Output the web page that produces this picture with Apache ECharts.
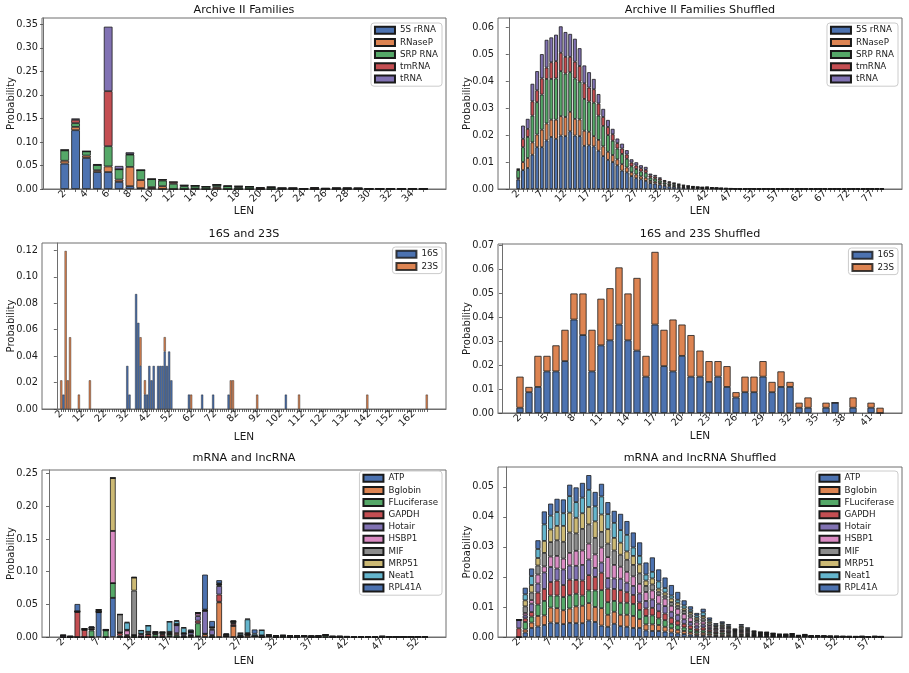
<!DOCTYPE html>
<html>
<head>
<meta charset="utf-8">
<title>LEN distributions</title>
<script src="https://cdn.jsdelivr.net/npm/echarts@6/dist/echarts.min.js"></script>
<style>
  html, body { margin: 0; padding: 0; background: #fff; }
  #chart { width: 909px; height: 673px; }
</style>
</head>
<body>
<div id="chart"></div>
<script>
// ---- Archive II Families (LEN 2..35) ----
var arch_start = 2;
var arch_names = ['5S rRNA', 'RNaseP', 'SRP RNA', 'tmRNA', 'tRNA'];
var arch_5s    = [.054,.125,.066,.036,.036,.015,.006,.002,.001,0, 0,0,0,0,0,0,0,0,0,0, 0,0,0,0,0,0,0,0,0,0, 0,0,0,0];
var arch_rnasep= [.006,.007,.005,.004,.012,.005,.041,.017,.003,.006, 0,0,.001,0,.004,0,0,0,0,0, 0,0,0,0,0,0,0,0,0,0, 0,0,0,0];
var arch_srp   = [.022,.008,.009,.011,.043,.022,.026,.021,.017,.012, .011,.006,.006,.005,.005,.006,.004,.005,.001,.004, .002,.002,.001,.001,.001,.002,.002,.001,.0005,.001, .0005,.0005,.0005,.0005];
var arch_tm    = [.001,.007,0,0,.117,0,.001,0,0,.002, .004,.002,0,0,0,0,.002,0,.002,0, 0,0,0,.002,0,0,0,.001,0,0, 0,0,0,0];
var arch_trna  = [0,.003,0,.002,.137,.007,.004,0,0,0, 0,0,0,0,0,.001,0,0,0,0, 0,0,0,0,.001,0,0,0,0,0, 0,0,0,0];

// ---- Archive II Families Shuffled (LEN 2..79) ----
var archS_start = 2;
var archS_5s = [.0035,.0070,.0078,.0127,.0155,.0155,.0180,.0193,.0186,.0198,
  .0196,.0214,.0198,.0196,.0160,.0162,.0158,.0142,.0122,.0108,
  .0100,.0088,.0068,.0062,.0048,.0040,.0036,.0030,.0022,.0020,
  .0016,.0012,.0010,.0008,.0007,.0005,.0004,.0003,.0003,.0002,
  .0002,.0002,.0001,.0001,.0001,.0001,.0001,0,.00005,.0001,
  .00005,0,.00005,.00005,0,.00005,0,.00005,.00005,0,
  .00005,0,.00005,0,.00005,.00005,0,.00005,0,.00005,
  0,.00005,.00005,0,.00005,0,.00005,.00005];
var archS_rnasep = [.0005,.0030,.0037,.0046,.0047,.0065,.0063,.0064,.0071,.0072,
  .0071,.0072,.0062,.0062,.0056,.0050,.0038,.0040,.0036,.0030,
  .0026,.0022,.0024,.0018,.0014,.0014,.0011,.0012,.0008,.0007,
  .0006,.0005,.0004,.0004,.0003,.0002,.0002,.0002,.0001,.0001,
  .0001,.0001,.0001,0,0,0,0,0,0,0,
  0,0,0,0,0,0,0,0,0,0, 0,0,0,0,0,0,0,0,0,0, 0,0,0,0,0,0,0,0];
var archS_srp = [.0030,.0055,.0078,.0099,.0120,.0130,.0165,.0151,.0153,.0167,
  .0161,.0147,.0150,.0140,.0118,.0112,.0124,.0090,.0076,.0062,
  .0053,.0040,.0038,.0032,.0022,.0020,.0018,.0018,.0012,.0011,
  .0009,.0007,.0006,.0005,.0004,.0003,.0003,.0002,.0002,.0002,
  .0001,.0001,.0001,.0001,.0001,0,0,.0001,0,0,
  0,.00005,0,0,.00005,0,0,0,0,.00005, 0,0,0,0,0,0,0,0,0,0, 0,0,0,0,0,0,0,0];
var archS_tm = [.0003,.0031,.0030,.0053,.0044,.0060,.0042,.0062,.0064,.0068,
  .0062,.0057,.0062,.0058,.0058,.0052,.0050,.0045,.0033,.0030,
  .0024,.0020,.0020,.0016,.0014,.0013,.0012,.0011,.0008,.0008,
  .0007,.0005,.0005,.0004,.0003,.0003,.0002,.0002,.0001,.0001,
  .0003,.0001,.0001,.0001,0,.0001,0,0,0,0,
  0,0,0,0,0,0,0,0,0,0, 0,0,0,0,0,0,0,0,0,0, 0,0,0,0,0,0,0,0];
var archS_trna = [.0002,.0049,.0037,.0065,.0071,.0090,.0103,.0092,.0098,.0098,
  .0092,.0085,.0085,.0066,.0066,.0057,.0038,.0035,.0030,.0026,
  .0020,.0017,.0018,.0016,.0012,.0012,.0011,.0011,.0007,.0006,
  .0005,.0004,.0003,.0002,.0002,.0002,.0001,.0001,.0001,.0001,
  .0001,0,0,0,.0001,0,0,0,0,0,
  0,0,0,0,0,0,0,0,0,0, 0,0,0,0,0,0,0,0,0,0, 0,0,0,0,0,0,0,0];

// ---- 16S and 23S (sparse, LEN 2..168) ----
var rr_names = ['16S', '23S'];
var rr_last = 168;
var rr16_len = [3, 32, 33, 36, 37, 38, 40, 41, 42, 43, 44, 46, 47, 48, 49, 50, 51, 52, 60, 66, 71, 78, 104];
var rr16_val = [.0109,.0326,.0109,.0870,.0652,.0326,.0109,.0109,.0326,.0217,.0326,.0326,.0326,.0326,.0435,.0326,.0435,.0217,.0109,.0109,.0109,.0109,.0109];
var rr23_len = [2, 4, 5, 6, 10, 15, 38, 40, 49, 61, 79, 80, 91, 110, 141, 168];
var rr23_val = [.0217,.1196,.0217,.0543,.0109,.0217,.0217,.0109,.0109,.0109,.0217,.0217,.0109,.0109,.0109,.0109];

// ---- 16S and 23S Shuffled (LEN 2..42) ----
var rrS_start = 2;
var rrS_16 = [.0022,.0087,.0109,.0174,.0174,.0217,.0391,.0326,.0174,.0283,
  .0304,.0370,.0304,.0261,.0152,.0370,.0196,.0174,.0239,.0152,
  .0152,.0130,.0152,.0109,.0065,.0087,.0087,.0152,.0087,.0109,
  .0109,.0022,.0022,null,.0022,.0043,null,.0022,null,.0022,0];
var rrS_23 = [.0130,.0022,.0130,.0065,.0109,.0131,.0109,.0174,.0174,.0195,
  .0218,.0239,.0196,.0304,.0087,.0304,.0152,.0217,.0131,.0174,
  .0109,.0087,.0065,.0087,.0022,.0065,.0065,.0065,.0043,.0065,
  .0021,.0021,.0043,null,.0021,0,null,.0043,null,.0021,.0022];

// ---- mRNA and lncRNA (LEN 2..53) ----
var mr_start = 2;
var mr_names = ['ATP', 'Bglobin', 'FLuciferase', 'GAPDH', 'Hotair', 'HSBP1', 'MIF', 'MRP51', 'Neat1', 'RPL41A'];
var mr_atp   = [0,0,0,0,0,.038,0,.06,0,0, 0,0,0,0,0,.001,0,0,0,.001, 0,0,0,.001,0,0,0,.001,.0005,.001, 0,0,0,0,.001,0,0,0,0,0, 0,0,0,0,0,0,0,0,0,0, 0,0];
var mr_bglo  = [0,0,0,0,0,0,0,0,0,0, 0,0,0,0,0,0,0,0,.002,0, .004,0,.053,0,.017,0,.003,0,0,0, 0,0,0,0,0,0,0,0,0,0, 0,0,0,0,0,0,0,0,0,0, 0,0];
var mr_fluc  = [0,0,0,0,.01,0,.01,.0225,.002,0, .002,0,0,.004,.001,.003,.003,.001,0,.02, .001,.002,.001,0,0,0,0,0,0,0, 0,.002,0,0,0,0,0,.003,0,0, 0,0,0,0,0,0,0,0,0,0, 0,0];
var mr_gapdh = [.0005,0,.0385,.011,.002,.001,0,0,.004,.002, .001,.001,.004,.001,.003,0,.003,.001,.001,.004, 0,.001,.011,.001,.003,.001,.001,0,0,0, 0,0,0,0,0,0,0,0,0,0, 0,0,0,0,0,0,0,0,0,0, 0,0];
var mr_hot   = [.002,0,0,0,0,0,0,0,.001,.001, 0,0,0,0,.001,.002,.012,.003,.004,.007, .035,.008,.013,0,.002,0,0,0,0,0, 0,0,.001,0,0,0,.001,0,0,0, 0,0,0,0,0,0,0,0,0,0, 0,0];
var mr_hsbp  = [0,0,0,0,0,0,0,.08,0,.007, 0,.003,.001,0,0,0,0,0,0,.004, 0,.002,.001,0,0,0,0,0,0,0, 0,0,0,0,0,0,0,0,0,0, 0,0,0,0,0,0,0,0,0,0, 0,0];
var mr_mif   = [0,.001,.001,.0015,.0025,.0025,.0015,0,.0275,.001, .068,.001,.003,.002,.002,.002,.002,.001,.002,.001, .001,.002,.002,.002,.002,.002,.002,.001,.002,.002, .002,.0005,.001,.002,.001,.0015,.001,0,.001,.001, .0008,.0005,.0005,.0003,.0005,.001,.0003,.0003,.0003,.0003, .0003,.0003];
var mr_mrp   = [0,0,0,0,0,0,0,.081,0,0, .02,0,0,0,0,0,0,0,0,0, 0,0,0,0,0,0,0,0,0,0, 0,0,0,0,0,0,0,0,0,0, 0,0,0,0,0,0,0,0,0,0, 0,0];
var mr_neat  = [0,0,0,0,0,0,0,0,0,.011, 0,.005,.0095,.001,.0005,.0155,.0045,.008,0,0, .001,0,.001,0,0,.003,.021,.003,.008,0, 0,0,0,0,0,0,0,0,0,0, 0,0,0,0,0,0,0,0,0,0, 0,0];
var mr_rpl   = [0,0,.011,0,.002,0,0,0,0,.001, .001,0,0,0,0,0,.001,.001,.0025,0, .0535,.0095,.005,.0015,.001,0,.001,.0065,0,0, 0,0,0,0,0,0,0,0,0,0, 0,0,0,0,0,0,0,0,0,0, 0,0];

// ---- mRNA and lncRNA Shuffled (LEN 2..59) ----
var mrS_start = 2;
var mrS_atp = [0,.0015,.0030,.0035,.0040,.0048,.0046,.0043,.0047,.0046,
  .0046,.0055,.0050,.0038,.0034,.0044,.0036,.0034,.0030,.0030,
  .0022,.0020,.0020,.0018,.0015,.0012,.0010,.0008,.0006,.0006,
  .0005,.0004,.0004,.0004,.0002,.0003,.0003,.0002,.0002,.0001,
  .0001,.0001,.0001,.0001,.0001,.0001,0,.0001,.0001,0,
  0,.0001,0,0,0,.0001,0,0];
var mrS_bglo = [0,.0010,.0018,.0035,.0032,.0050,.0050,.0046,.0048,.0056,
  .0058,.0058,.0050,.0058,.0040,.0040,.0038,.0040,.0040,.0030,
  .0020,.0022,.0020,.0016,.0014,.0012,.0010,.0008,.0006,.0008,
  .0006,.0004,.0005,.0004,.0003,.0004,.0003,.0002,.0001,.0002,
  .0001,.0001,.0001,.0001,0,.0001,.0001,0,0,.0001,
  0,0,0,0,.0001,0,0,0];
var mrS_fluc = [0,.0025,.0020,.0038,.0048,.0040,.0042,.0044,.0044,.0042,
  .0034,.0042,.0055,.0060,.0042,.0036,.0040,.0040,.0040,.0030,
  .0028,.0030,.0022,.0022,.0015,.0015,.0012,.0010,.0008,.0008,
  .0006,.0005,.0006,.0004,.0003,.0004,.0003,.0002,.0002,.0002,
  .0002,.0001,.0001,.0001,.0001,.0001,0,0,0,0,
  .0001,0,0,0,0,0,.0001,0];
var mrS_gapdh = [.0029,.0012,.0015,.0040,.0040,.0045,.0050,.0040,.0052,.0046,
  .0050,.0051,.0045,.0058,.0045,.0040,.0042,.0035,.0030,.0025,
  .0025,.0025,.0024,.0022,.0020,.0015,.0012,.0012,.0008,.0010,
  .0007,.0005,.0005,.0004,.0003,.0005,.0003,.0002,.0002,.0002,
  .0001,.0001,.0001,.0002,0,.0001,.0001,.0001,0,0,
  0,0,.0001,0,0,0,0,0];
var mrS_hot = [.0028,.0010,.0028,.0030,.0055,.0050,.0040,.0052,.0047,.0047,
  .0052,.0052,.0030,.0034,.0035,.0035,.0038,.0032,.0030,.0030,
  .0025,.0028,.0025,.0025,.0020,.0020,.0015,.0012,.0010,.0010,
  .0006,.0004,.0005,.0005,.0003,.0004,.0003,.0002,.0002,.0002,
  .0002,.0001,.0001,.0001,.0001,0,0,0,.0001,0,
  0,0,0,.0001,0,0,0,.0001];
var mrS_hsbp = [0,.0008,.0012,.0030,.0020,.0035,.0042,.0036,.0042,.0050,
  .0048,.0053,.0045,.0050,.0070,.0045,.0040,.0036,.0032,.0032,
  .0030,.0030,.0028,.0025,.0020,.0020,.0018,.0015,.0010,.0010,
  .0007,.0005,.0005,.0004,.0003,.0004,.0004,.0002,.0002,.0001,
  .0001,.0001,.0001,.0001,0,.0001,0,.0001,0,0,
  .0001,0,0,0,0,0,0,0];
var mrS_mif = [0,.0022,.0025,.0030,.0045,.0048,.0052,.0056,.0068,.0058,
  .0072,.0064,.0055,.0052,.0045,.0048,.0040,.0040,.0038,.0035,
  .0020,.0020,.0012,.0010,.0012,.0010,.0010,.0010,.0008,.0010,
  .0008,.0005,.0006,.0005,.0003,.0005,.0003,.0003,.0002,.0002,
  .0002,.0001,.0001,.0002,.0001,.0001,.0001,0,.0001,.0001,
  0,.0001,0,0,.0001,0,.0001,0];
var mrS_mrp = [0,.0020,.0025,.0025,.0040,.0042,.0048,.0053,.0066,.0052,
  .0052,.0058,.0055,.0058,.0048,.0042,.0040,.0028,.0030,.0030,
  .0018,.0020,.0010,.0010,.0012,.0010,.0008,.0008,.0008,.0008,
  .0006,.0004,.0005,.0004,.0003,.0005,.0003,.0002,.0001,.0002,
  .0001,.0001,.0001,.0001,0,.0001,0,0,0,0,
  0,0,.0001,0,0,0,0,0];
var mrS_neat = [0,.0020,.0030,.0030,.0055,.0046,.0046,.0042,.0055,.0052,
  .0052,.0057,.0050,.0060,.0050,.0050,.0042,.0055,.0028,.0028,
  .0020,.0022,.0024,.0015,.0010,.0010,.0010,.0008,.0008,.0012,
  .0006,.0005,.0005,.0004,.0002,.0004,.0003,.0002,.0002,.0001,
  .0001,.0001,.0001,.0001,.0001,.0001,.0001,0,0,.0001,
  0,0,0,.0001,0,0,0,.0001];
var mrS_rpl = [0,.0022,.0025,.0029,.0043,.0040,.0044,.0046,.0038,.0049,
  .0049,.0049,.0048,.0042,.0040,.0040,.0054,.0046,.0050,.0045,
  .0040,.0048,.0040,.0035,.0035,.0026,.0017,.0011,.0008,.0012,
  .0008,.0005,.0006,.0005,.0003,.0005,.0004,.0002,.0001,.0002,
  .0001,.0001,.0001,.0001,.0001,.0001,0,.0001,0,0,
  .0001,0,0,0,0,.0001,0,0];

// tick labels
var arch_xlabels  = [2,4,6,8,10,12,14,16,18,20,22,24,26,28,30,32,34];
var archS_xlabels = [2,7,12,17,22,27,32,37,42,47,52,57,62,67,72,77];
var rr_xlabels    = [2,12,22,32,42,52,62,72,82,92,102,112,122,132,142,152,162];
var rrS_xlabels   = [2,5,8,11,14,17,20,23,26,29,32,35,38,41];
var mr_xlabels    = [2,7,12,17,22,27,32,37,42,47,52];
var mrS_xlabels   = [2,7,12,17,22,27,32,37,42,47,52,57];
var arch_yticks  = [0,.05,.10,.15,.20,.25,.30,.35];
var archS_yticks = [0,.01,.02,.03,.04,.05,.06];
var rr_yticks    = [0,.02,.04,.06,.08,.10,.12];
var rrS_yticks   = [0,.01,.02,.03,.04,.05,.06,.07];
var mr_yticks    = [0,.05,.10,.15,.20,.25];
var mrS_yticks   = [0,.01,.02,.03,.04,.05];

var deep = ['#4c72b0','#dd8452','#55a868','#c44e52','#8172b3','#da8bc3','#8c8c8c','#ccb974','#64b5cd','#4c72b0'];
var FONT = 'DejaVu Sans';
var SPINE = '#6e6e6e';
var TXT = '#1a1a1a';

// sparse -> dense (null where no bar)
function densify(lens, vals, first, last) {
    var out = [];
    for (var x = first; x <= last; x++) out.push(null);
    lens.forEach(function(l, k) { out[l - first] = vals[k]; });
    return out;
}

var option = {
    animation: false,
    backgroundColor: '#fff',
    title: [], grid: [], xAxis: [], yAxis: [], legend: [], series: []
};

function addPanel(i, p) {
    var n = p.values[0].length;
    var first = p.start, last = p.start + n - 1;
    var pad = 0.05 * (last - first + 0.8);
    var ticks = [];
    for (var x = first; x <= last; x++) ticks.push(x);

    option.title.push({
        text: p.title, left: p.box[0] + p.box[2] / 2, top: p.titleTop, textAlign: 'center', padding: 0,
        textStyle: { fontSize: 11.2, fontWeight: 'normal', color: '#111', fontFamily: FONT }
    });
    option.grid.push({
        left: p.box[0], top: p.box[1], width: p.box[2], height: p.box[3],
        show: true, borderColor: SPINE, borderWidth: 1, backgroundColor: 'transparent',
        containLabel: false, outerBoundsMode: 'none'
    });
    option.xAxis.push({
        type: 'value', gridIndex: i, min: first - 0.4 - pad, max: last + 0.4 + pad,
        name: 'LEN', nameLocation: 'middle', nameGap: p.xNameGap, nameMoveOverlap: false,
        nameTextStyle: { fontSize: 10.5, color: TXT, fontFamily: FONT },
        axisLine: { show: true, onZero: false, lineStyle: { color: SPINE, width: 1 } },
        axisTick: { show: true, customValues: ticks, length: 3, lineStyle: { color: '#444', width: 0.8 } },
        axisLabel: { customValues: p.xLabels, rotate: 45, fontSize: 9.8, margin: 3, color: TXT, fontFamily: FONT },
        splitLine: { show: false }
    });
    option.yAxis.push({
        type: 'value', gridIndex: i, min: 0, max: p.yMax,
        name: 'Probability', nameLocation: 'middle', nameGap: 26, nameMoveOverlap: false,
        nameTextStyle: { fontSize: 10, color: TXT, fontFamily: FONT },
        axisLine: { show: true, lineStyle: { color: SPINE, width: 1 } },
        axisTick: { show: true, customValues: p.yTicks, length: 3, lineStyle: { color: '#444', width: 0.8 } },
        axisLabel: { customValues: p.yTicks, fontSize: 9.8, margin: 4, color: TXT, fontFamily: FONT,
            formatter: function(v) { return v.toFixed(2); } },
        splitLine: { show: false }
    });
    option.legend.push({
        data: p.names, orient: 'vertical', right: p.legendRight, top: p.legendTop,
        itemWidth: 20, itemHeight: 7, itemGap: 3.2, padding: [2.7, 4, 2.7, 3],
        icon: 'rect', selectedMode: false,
        backgroundColor: 'rgba(255,255,255,0.85)', borderColor: '#cccccc', borderWidth: 1, borderRadius: 3,
        textStyle: { fontSize: 8.7, color: TXT, fontFamily: FONT }
    });
    p.values.forEach(function(vals, k) {
        option.series.push({
            type: 'bar', name: p.names[k], xAxisIndex: i, yAxisIndex: i, stack: 'panel' + i,
            barWidth: p.barWidth || '80%',
            // value first so the stack is summed on the probability dimension
            encode: { x: 1, y: 0 },
            itemStyle: { color: p.colors[k], borderColor: p.edgeColor || '#1a1a1a', borderWidth: p.edge || 0.8 },
            data: vals.map(function(v, j) { return [v, first + j]; })
        });
    });
}

addPanel(0, {
    title: 'Archive II Families', titleTop: 5, box: [42, 18, 404, 171], start: arch_start,
    names: arch_names, colors: deep.slice(0, 5),
    values: [arch_5s, arch_rnasep, arch_srp, arch_tm, arch_trna],
    yMax: 0.3635, yTicks: arch_yticks, xLabels: arch_xlabels, xNameGap: 17,
    legendRight: 467, legendTop: 23
});
addPanel(1, {
    title: 'Archive II Families Shuffled', titleTop: 5, box: [498, 18, 404, 171], start: archS_start,
    names: arch_names, colors: deep.slice(0, 5),
    values: [archS_5s, archS_rnasep, archS_srp, archS_tm, archS_trna],
    yMax: 0.0634, yTicks: archS_yticks, xLabels: archS_xlabels, xNameGap: 17,
    legendRight: 11, legendTop: 23
});
addPanel(2, {
    title: '16S and 23S', titleTop: 229, box: [42, 243, 404, 166], start: 2,
    barWidth: '100%', edge: 0.5, edgeColor: 'rgba(20,20,20,0.8)',
    names: rr_names, colors: deep.slice(0, 2),
    values: [densify(rr16_len, rr16_val, 2, rr_last), densify(rr23_len, rr23_val, 2, rr_last)],
    yMax: 0.1256, yTicks: rr_yticks, xLabels: rr_xlabels, xNameGap: 23,
    legendRight: 467, legendTop: 247
});
addPanel(3, {
    title: '16S and 23S Shuffled', titleTop: 229, box: [498, 244, 404, 169], start: rrS_start,
    names: rr_names, colors: deep.slice(0, 2),
    values: [rrS_16, rrS_23],
    yMax: 0.0707, yTicks: rrS_yticks, xLabels: rrS_xlabels, xNameGap: 18,
    legendRight: 11, legendTop: 248
});
addPanel(4, {
    title: 'mRNA and lncRNA', titleTop: 453, box: [42, 470, 404, 167], start: mr_start,
    names: mr_names, colors: deep,
    values: [mr_atp, mr_bglo, mr_fluc, mr_gapdh, mr_hot, mr_hsbp, mr_mif, mr_mrp, mr_neat, mr_rpl],
    yMax: 0.2557, yTicks: mr_yticks, xLabels: mr_xlabels, xNameGap: 19,
    legendRight: 467, legendTop: 471
});
addPanel(5, {
    title: 'mRNA and lncRNA Shuffled', titleTop: 453, box: [498, 467, 404, 170], start: mrS_start,
    names: mr_names, colors: deep,
    values: [mrS_atp, mrS_bglo, mrS_fluc, mrS_gapdh, mrS_hot, mrS_hsbp, mrS_mif, mrS_mrp, mrS_neat, mrS_rpl],
    yMax: 0.0566, yTicks: mrS_yticks, xLabels: mrS_xlabels, xNameGap: 19,
    legendRight: 11, legendTop: 471
});

var chart = echarts.init(document.getElementById('chart'), null, { renderer: 'canvas' });
chart.setOption(option);
</script>
</body>
</html>
